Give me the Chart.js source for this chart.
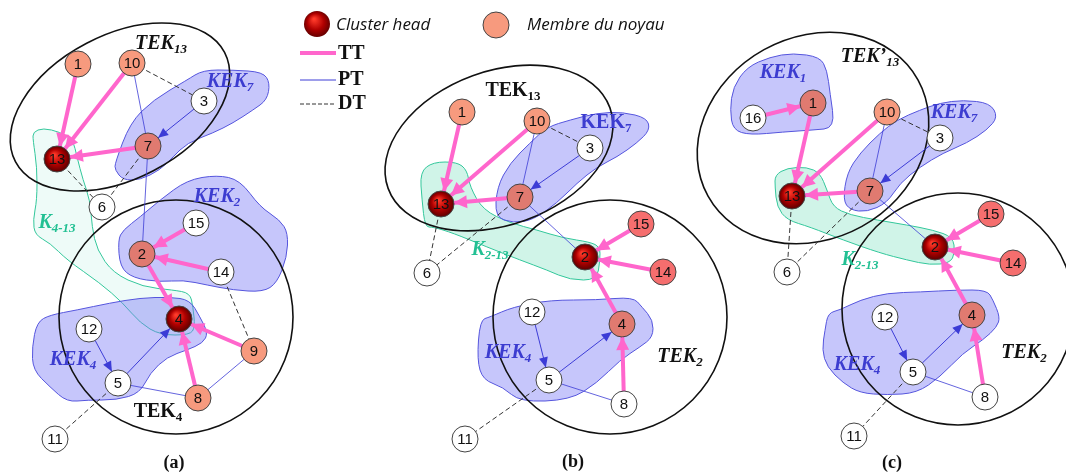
<!DOCTYPE html>
<html lang="fr">
<head>
<meta charset="UTF-8">
<title>TEK / KEK</title>
<script src="https://cdn.jsdelivr.net/npm/chart.js"></script>
<style>
  body { margin: 0; background: #fff; }
  #wrap { width: 1066px; height: 472px; }
</style>
</head>
<body>
<div id="wrap"><canvas id="diag" width="1066" height="472"></canvas></div>
<script>
// ---- panel (a) ----
const idsA  = [1, 10, 3, 7, 13, 6, 15, 2, 14, 4, 12, 5, 9, 8, 11];
const xA    = [78, 132, 204, 148, 57, 102, 196, 142, 221, 179, 89, 118, 254, 198, 55];
const yA    = [64, 63, 101, 146, 159, 207, 223, 254, 272, 319, 329, 383, 351, 398, 439];
const roleA = ['core','core','free','mid','head','free','free','mid','free','head','free','free','core','core','free'];
const ttA   = [[1,13],[10,13],[7,13],[15,2],[14,2],[2,4],[9,4],[8,4]];
const ptArrA = [[3,7],[12,5],[5,4]];
const ptA   = [[10,7],[7,2],[5,8],[8,9]];
const dtA   = [[10,3],[13,6],[7,6],[14,9],[5,11]];

// ---- panel (b) ----
const idsB  = [1, 10, 3, 7, 13, 6, 15, 2, 14, 4, 12, 5, 8, 11];
const xB    = [462, 537, 590, 520, 441, 427, 641, 585, 663, 622, 532, 549, 624, 465];
const yB    = [112, 121, 148, 197, 204, 273, 224, 257, 272, 324, 312, 380, 404, 439];
const roleB = ['core','core','free','mid','head','free','hot','head','hot','mid','free','free','free','free'];
const ttB   = [[1,13],[10,13],[7,13],[15,2],[14,2],[4,2],[8,4]];
const ptArrB = [[3,7],[12,5],[5,4]];
const ptB   = [[10,7],[7,2],[5,8]];
const dtB   = [[10,3],[13,6],[7,6],[5,11]];

// ---- panel (c) ----
const idsC  = [16, 1, 10, 3, 7, 13, 6, 15, 2, 14, 4, 12, 5, 8, 11];
const xC    = [753, 813, 887, 940, 870, 792, 787, 991, 935, 1013, 972, 885, 913, 985, 854];
const yC    = [118, 103, 112, 138, 191, 196, 272, 214, 247, 263, 315, 317, 372, 397, 436];
const roleC = ['free','mid','core','free','mid','head','free','hot','head','hot','mid','free','free','free','free'];
const ttC   = [[16,1],[1,13],[10,13],[7,13],[15,2],[14,2],[4,2],[8,4]];
const ptArrC = [[3,7],[12,5],[5,4]];
const ptC   = [[10,7],[7,2],[5,8]];
const dtC   = [[10,3],[13,6],[7,6],[5,11]];

// groups (outlines, in chart units)
const kek7A = [[115,163],[130,123],[153,100],[187,80],[203,70],[233,70],[263,72],[270,83],[267,100],[253,110],[233,123],[213,133],[187,143],[173,157],[160,170],[140,180],[123,180],[115,170]];
const kek2A = [[118,240],[120,267],[133,278],[160,282],[183,280],[207,285],[233,290],[263,292],[277,283],[287,257],[288,233],[280,220],[260,207],[240,180],[217,175],[187,180],[160,200],[140,217],[123,230]];
const kek4A = [[37,322],[50,315],[77,310],[110,303],[140,298],[170,297],[190,300],[200,317],[208,333],[203,343],[187,350],[167,357],[150,373],[140,393],[117,400],[87,400],[67,402],[50,387],[33,370],[32,347]];
const k413A = [[33,132],[43,128],[60,132],[73,140],[77,157],[83,180],[90,200],[92,227],[97,250],[113,273],[143,287],[173,290],[190,293],[193,307],[195,327],[190,335],[160,335],[140,323],[123,303],[100,283],[67,260],[50,243],[35,235],[33,220],[37,200],[37,167],[33,140]];
const kek7B = [[495,217],[497,187],[510,163],[530,143],[547,127],[570,120],[597,113],[623,112],[647,118],[650,130],[637,143],[617,157],[597,167],[577,183],[557,203],[533,220],[513,223]];
const k213B = [[420,172],[433,162],[457,162],[467,170],[470,187],[483,210],[510,223],[537,230],[563,238],[590,242],[600,247],[600,260],[597,280],[570,280],[547,270],[520,260],[487,247],[453,233],[433,227],[425,227],[422,200]];
const kek4B = [[480,320],[490,317],[513,307],[550,300],[597,300],[633,297],[642,307],[653,320],[653,337],[640,347],[620,360],[597,383],[570,400],[520,402],[503,387],[483,380],[477,360]];
const kek1C = [[730,110],[733,87],[747,67],[770,57],[793,53],[820,57],[827,70],[830,93],[835,128],[813,130],[783,132],[750,135],[733,130]];
const kek7C = [[843,200],[847,173],[860,153],[880,133],[897,120],[920,110],[940,103],[963,100],[990,103],[998,117],[987,130],[967,143],[943,153],[920,167],[900,183],[887,203],[867,212],[850,210]];
const k213C = [[775,175],[787,168],[807,167],[820,173],[827,190],[833,207],[850,215],[877,220],[907,225],[933,230],[953,237],[955,253],[950,263],[930,265],[907,260],[880,253],[843,240],[810,227],[787,220],[777,207],[775,187]];
const kek4C = [[828,313],[840,310],[860,300],[887,293],[920,292],[957,290],[987,290],[993,300],[1000,317],[997,327],[983,340],[963,353],[940,377],[917,393],[887,395],[860,393],[843,383],[827,367],[822,350],[825,330]];

// TEK ellipses: cx, cy, rx, ry, rotation (deg)
const tekA = [[120,107,118,72,-27.6],[176,317,117,117,0]];
const tekB = [[499,148,118,77,-20],[610,317,117,117,0]];
const tekC = [[813,138,120,101,-29],[958,309,116,116,0]];

// text labels: text, subscript, centre x, y, kind
const labelsA = [['TEK','13',161,44,'teki'],['KEK','7',230,82,'keki'],['KEK','2',217,197,'keki'],['K','4-13',57,223,'ki'],['KEK','4',73,360,'keki'],['TEK','4',158,412,'tek'],['(a)','',174,463,'cap']];
const labelsB = [['TEK','13',513,91,'tek'],['KEK','7',606,123,'kek'],['K','2-13',490,250,'ki'],['KEK','4',508,353,'keki'],['TEK','2',680,357,'teki'],['(b)','',573,462,'cap']];
const labelsC = [['TEK\u2019','13',870,57,'teki'],['KEK','1',783,73,'keki'],['KEK','7',954,113,'keki'],['K','2-13',860,260,'ki'],['KEK','4',857,365,'keki'],['TEK','2',1024,353,'teki'],['(c)','',892,463,'cap']];

const panels = [
  {ids: idsA, x: xA, y: yA, role: roleA, tt: ttA, pa: ptArrA, pt: ptA, dt: dtA, kek: [kek7A, kek2A, kek4A], kk: [k413A], tek: tekA, labels: labelsA, kkFill: 'rgba(232,250,245,0.75)'},
  {ids: idsB, x: xB, y: yB, role: roleB, tt: ttB, pa: ptArrB, pt: ptB, dt: dtB, kek: [kek7B, kek4B], kk: [k213B], tek: tekB, labels: labelsB, kkFill: 'rgba(200,242,228,0.85)'},
  {ids: idsC, x: xC, y: yC, role: roleC, tt: ttC, pa: ptArrC, pt: ptC, dt: dtC, kek: [kek1C, kek7C, kek4C], kk: [k213C], tek: tekC, labels: labelsC, kkFill: 'rgba(200,242,228,0.85)'}
];

const roleColor = { core: '#f79a7e', mid: '#e07a70', hot: '#f56e6e', free: '#ffffff', head: '#a00000' };
const PINK = '#ff66cc', BLUE = '#3c3cd6';

function pos(p, id) {
  const i = p.ids.indexOf(id);
  return { x: p.x[i], y: p.y[i] };
}

// datasets: nodes first (drawn on top), then edges
const datasets = [];
panels.forEach(p => {
  datasets.push({
    data: p.ids.map((id, i) => ({ x: p.x[i], y: p.y[i] })),
    pointRadius: 13,
    pointBorderWidth: 1,
    pointBorderColor: '#444',
    pointBackgroundColor: ctx => {
      const role = p.role[ctx.dataIndex];
      if (role !== 'head') return roleColor[role];
      const ch = ctx.chart;
      if (!ch.chartArea || !ctx.raw) return roleColor.head;
      const cx = ch.scales.x.getPixelForValue(ctx.raw.x);
      const cy = ch.scales.y.getPixelForValue(ctx.raw.y);
      const g = ch.ctx.createRadialGradient(cx - 3, cy - 4, 1, cx, cy, 13);
      g.addColorStop(0, '#ff3a2a');
      g.addColorStop(0.55, '#b00000');
      g.addColorStop(1, '#5c0000');
      return g;
    }
  });
});
panels.forEach(p => {
  const add = (pairs, color, width, dash) => pairs.forEach(([a, b]) => {
    datasets.push({
      data: [pos(p, a), pos(p, b)],
      showLine: true, pointRadius: 0,
      borderColor: color, borderWidth: width, borderDash: dash
    });
  });
  add(p.tt, PINK, 4, []);
  add(p.pa, BLUE, 1, []);
  add(p.pt, BLUE, 0.8, []);
  add(p.dt, '#333', 1, [5, 3]);
});

function smoothPath(ctx, pts) {
  const n = pts.length;
  const mid = (a, b) => [(a[0] + b[0]) / 2, (a[1] + b[1]) / 2];
  let m = mid(pts[n - 1], pts[0]);
  ctx.beginPath();
  ctx.moveTo(m[0], m[1]);
  for (let i = 0; i < n; i++) {
    const q = mid(pts[i], pts[(i + 1) % n]);
    ctx.quadraticCurveTo(pts[i][0], pts[i][1], q[0], q[1]);
  }
  ctx.closePath();
}

function arrow(ctx, from, to, r, len, half, color) {
  const dx = to.x - from.x, dy = to.y - from.y;
  const d = Math.hypot(dx, dy), ux = dx / d, uy = dy / d;
  const tx = to.x - ux * r, ty = to.y - uy * r;
  ctx.fillStyle = color;
  ctx.beginPath();
  ctx.moveTo(tx, ty);
  ctx.lineTo(tx - ux * len - uy * half, ty - uy * len + ux * half);
  ctx.lineTo(tx - ux * len + uy * half, ty - uy * len - ux * half);
  ctx.closePath();
  ctx.fill();
}

function subText(ctx, main, sub, cx, cy, font, subFont, color) {
  ctx.font = font;
  const w1 = ctx.measureText(main).width;
  ctx.font = subFont;
  const w2 = sub ? ctx.measureText(sub).width : 0;
  const x0 = cx - (w1 + w2) / 2;
  ctx.fillStyle = color;
  ctx.textAlign = 'left';
  ctx.textBaseline = 'middle';
  ctx.font = font;
  ctx.fillText(main, x0, cy);
  if (sub) { ctx.font = subFont; ctx.fillText(sub, x0 + w1, cy + 6); }
}

const serif = '"Liberation Serif", "DejaVu Serif", serif';
const labelFonts = {
  teki: ['italic bold 20px ', 'italic bold 13px ', '#111'],
  tek:  ['bold 20px ', 'bold 13px ', '#111'],
  keki: ['italic bold 20px ', 'italic bold 13px ', '#3c3cd0'],
  kek:  ['bold 20px ', 'bold 13px ', '#3c3cd0'],
  ki:   ['italic bold 20px ', 'italic bold 13px ', '#22c093'],
  cap:  ['bold 18px ', 'bold 13px ', '#111']
};

const diagram = {
  id: 'diagram',
  beforeDatasetsDraw(chart) {
    const ctx = chart.ctx, sx = chart.scales.x, sy = chart.scales.y;
    const toPx = pts => pts.map(([a, b]) => [sx.getPixelForValue(a), sy.getPixelForValue(b)]);
    ctx.save();
    panels.forEach(p => {
      p.kk.forEach(poly => {
        smoothPath(ctx, toPx(poly));
        ctx.fillStyle = p.kkFill; ctx.fill();
        ctx.strokeStyle = '#33c79b'; ctx.lineWidth = 1; ctx.stroke();
      });
      p.kek.forEach(poly => {
        smoothPath(ctx, toPx(poly));
        ctx.fillStyle = 'rgba(120,120,245,0.42)'; ctx.fill();
        ctx.strokeStyle = '#5555dd'; ctx.lineWidth = 1; ctx.stroke();
      });
      p.tek.forEach(([cx, cy, rx, ry, rot]) => {
        const px = sx.getPixelForValue(cx), py = sy.getPixelForValue(cy);
        const kx = Math.abs(sx.getPixelForValue(cx + rx) - px);
        const ky = Math.abs(sy.getPixelForValue(cy + ry) - py);
        ctx.beginPath();
        ctx.ellipse(px, py, kx, ky, rot * Math.PI / 180, 0, Math.PI * 2);
        ctx.strokeStyle = '#111'; ctx.lineWidth = 1.6; ctx.stroke();
      });
    });
    ctx.restore();
  },
  afterDatasetsDraw(chart) {
    const ctx = chart.ctx, sx = chart.scales.x, sy = chart.scales.y;
    const P = o => ({ x: sx.getPixelForValue(o.x), y: sy.getPixelForValue(o.y) });
    ctx.save();
    panels.forEach(p => {
      p.tt.forEach(([a, b]) => arrow(ctx, P(pos(p, a)), P(pos(p, b)), 13, 13, 6.5, PINK));
      p.pa.forEach(([a, b]) => arrow(ctx, P(pos(p, a)), P(pos(p, b)), 13, 10, 4.5, BLUE));
      // node numbers
      ctx.font = '15px "Liberation Sans", Arial, sans-serif';
      ctx.textAlign = 'center';
      ctx.textBaseline = 'middle';
      p.ids.forEach((id, i) => {
        const q = P({ x: p.x[i], y: p.y[i] });
        ctx.fillStyle = '#111';
        ctx.fillText(String(id), q.x, q.y + 1);
      });
      p.labels.forEach(([main, sub, x, y, kind]) => {
        const f = labelFonts[kind];
        subText(ctx, main, sub, sx.getPixelForValue(x), sy.getPixelForValue(y), f[0] + serif, f[1] + serif, f[2]);
      });
    });
    ctx.restore();
  },
  afterDraw(chart) {
    // legend
    const ctx = chart.ctx;
    ctx.save();
    let g = ctx.createRadialGradient(314, 19, 1, 317, 24, 14);
    g.addColorStop(0, '#ff3a2a'); g.addColorStop(0.55, '#b00000'); g.addColorStop(1, '#5c0000');
    ctx.beginPath(); ctx.arc(317, 24, 13, 0, Math.PI * 2); ctx.fillStyle = g; ctx.fill();
    ctx.beginPath(); ctx.arc(496, 25, 13, 0, Math.PI * 2); ctx.fillStyle = '#f79a7e'; ctx.fill();
    ctx.strokeStyle = '#444'; ctx.lineWidth = 1; ctx.stroke();
    ctx.fillStyle = '#111';
    ctx.textAlign = 'left'; ctx.textBaseline = 'middle';
    ctx.font = 'italic 17px "Open Sans", "Liberation Sans", sans-serif';
    ctx.fillText('Cluster head', 336, 25);
    ctx.fillText('Membre du noyau', 527, 25);
    ctx.lineWidth = 4; ctx.strokeStyle = PINK;
    ctx.beginPath(); ctx.moveTo(300, 53); ctx.lineTo(336, 53); ctx.stroke();
    ctx.lineWidth = 1; ctx.strokeStyle = BLUE;
    ctx.beginPath(); ctx.moveTo(300, 80); ctx.lineTo(336, 80); ctx.stroke();
    ctx.strokeStyle = '#333'; ctx.setLineDash([4, 2]);
    ctx.beginPath(); ctx.moveTo(300, 104); ctx.lineTo(336, 104); ctx.stroke();
    ctx.setLineDash([]);
    ctx.fillStyle = '#111';
    ctx.font = 'bold 20px "Liberation Serif", serif';
    ctx.fillText('TT', 338, 54);
    ctx.fillText('PT', 338, 80);
    ctx.fillText('DT', 338, 104);
    ctx.restore();
  }
};

new Chart(document.getElementById('diag'), {
  type: 'scatter',
  data: { datasets: datasets },
  options: {
    responsive: false,
    animation: false,
    events: [],
    layout: { padding: 0, autoPadding: false },
    plugins: { legend: { display: false }, tooltip: { enabled: false } },
    scales: {
      x: { type: 'linear', min: 0, max: 1066, display: false },
      y: { type: 'linear', min: 0, max: 472, reverse: true, display: false }
    }
  },
  plugins: [diagram]
});
</script>
</body>
</html>
